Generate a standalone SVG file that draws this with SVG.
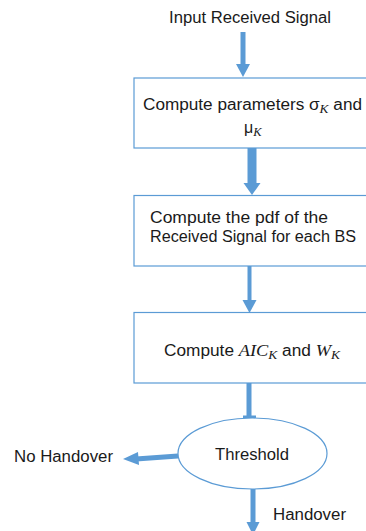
<svg xmlns="http://www.w3.org/2000/svg" width="366" height="531" viewBox="0 0 366 531">
<style>
.t{font-family:"Liberation Sans",Arial,sans-serif;font-size:16px;fill:#1a1a1a}
.m{font-family:"Liberation Serif","Times New Roman",serif;font-style:italic;font-size:17px}
.sub{font-family:"Liberation Serif","Times New Roman",serif;font-style:italic;font-size:12.5px}
.box{fill:#fff;stroke:#5B9BD5;stroke-width:1.2}
.sh{stroke:#5B9BD5;fill:none}
.ah{fill:#5B9BD5}
</style>
<rect width="366" height="531" fill="#fff"/>
<g id="connectors">
  <line class="sh" x1="243" y1="32" x2="243" y2="65" stroke-width="5"/>
  <polygon class="ah" points="236,64 250,64 243,77"/>
  <line class="sh" x1="252" y1="148" x2="252" y2="184" stroke-width="9"/>
  <polygon class="ah" points="243.5,183 260.5,183 252,195"/>
  <line class="sh" x1="249.5" y1="266" x2="249.5" y2="301" stroke-width="4"/>
  <polygon class="ah" points="242.5,300 256.5,300 249.5,313"/>
  <line class="sh" x1="249" y1="383" x2="249" y2="417" stroke-width="5"/>
  <rect class="ah" x="243" y="415.5" width="13" height="2.5"/>
  <line class="sh" x1="178" y1="456" x2="136" y2="459" stroke-width="5"/>
  <polygon class="ah" points="138,452 139,465 123,459"/>
  <line class="sh" x1="253" y1="489" x2="253" y2="523" stroke-width="5"/>
  <polygon class="ah" points="246.5,522 259.5,522 253,535"/>
</g>
<g id="input">
  <text class="t" x="250" y="23" text-anchor="middle" textLength="162" lengthAdjust="spacingAndGlyphs">Input Received Signal</text>
</g>
<g id="box1">
  <rect class="box" x="134" y="78" width="240" height="70"/>
  <text class="t" x="143" y="110" textLength="219" lengthAdjust="spacingAndGlyphs">Compute parameters σ<tspan class="sub" dy="3">K</tspan><tspan dy="-3"> and</tspan></text>
  <text class="t" x="244" y="133">μ<tspan class="sub" dy="3">K</tspan></text>
</g>
<g id="box2">
  <rect class="box" x="134" y="195.5" width="240" height="70.5"/>
  <text class="t" x="150" y="223" textLength="178" lengthAdjust="spacingAndGlyphs">Compute the pdf of the</text>
  <text class="t" x="150" y="242" textLength="206" lengthAdjust="spacingAndGlyphs">Received Signal for each BS</text>
</g>
<g id="box3">
  <rect class="box" x="134" y="312.5" width="240" height="70.5"/>
  <text class="t" x="164" y="356" textLength="176" lengthAdjust="spacingAndGlyphs">Compute <tspan class="m">AIC</tspan><tspan class="sub" dy="3">K</tspan><tspan dy="-3"> and </tspan><tspan class="m">W</tspan><tspan class="sub" dy="3">K</tspan></text>
</g>
<g id="threshold">
  <ellipse class="box" cx="252.5" cy="453.5" rx="74.5" ry="35.5"/>
  <text class="t" x="252" y="460" text-anchor="middle" textLength="74" lengthAdjust="spacingAndGlyphs">Threshold</text>
</g>
<g id="no-handover">
  <text class="t" x="14" y="462" textLength="99" lengthAdjust="spacingAndGlyphs">No Handover</text>
</g>
<g id="handover">
  <text class="t" x="273" y="520" textLength="73" lengthAdjust="spacingAndGlyphs">Handover</text>
</g>
</svg>
